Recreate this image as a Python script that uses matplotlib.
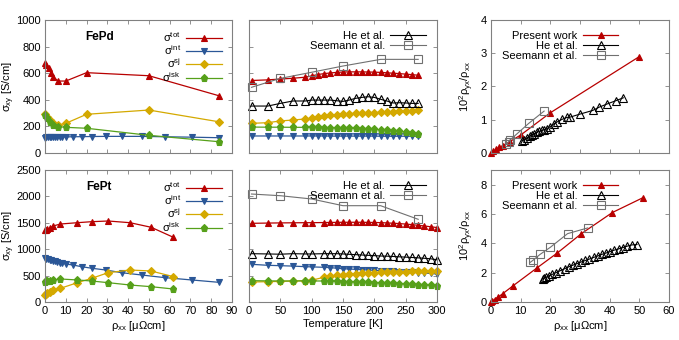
import matplotlib
matplotlib.use("Agg")
import matplotlib.pyplot as plt

plt.rcParams['font.family'] = ['Liberation Sans', 'DejaVu Sans']
plt.rcParams['mathtext.fontset'] = 'custom'
plt.rcParams['mathtext.rm'] = 'Liberation Sans'
plt.rcParams['font.size'] = 8

# ---- FePd, sigma vs rho_xx
pd_rho_tot = [0, 0.7, 1.8, 2.8, 3.9, 6.3, 10, 20, 50, 83.6]
pd_tot = [675, 662, 637, 604, 574, 541, 541, 604, 581, 431]
pd_rho_sj = [0, 1.0, 2.3, 3.9, 6.3, 10, 20, 50, 83.6]
pd_sj = [290, 273, 248, 223, 210, 223, 291, 323, 235]
pd_isk = [283, 261, 236, 211, 198, 193, 186, 133, 85]
pd_rho_int = [0, 0.7, 1.4, 2.3, 3.1, 3.9, 4.7, 5.8, 7.1, 8.4, 10, 13.5, 17.6,
              22.7, 29.2, 36.9, 46.6, 57.8, 70.7, 83.6]
pd_int = [116, 117, 117, 118, 118, 118, 119, 119, 120, 120, 121, 122, 123,
          124, 125, 125, 125, 122, 119, 115]

# ---- FePt, sigma vs rho_xx
pt_rho = [0, 0.5, 1.2, 2.3, 3.9, 7.4, 15.6, 22.4, 30.4, 40.9, 51.1, 61.8]
pt_tot = [1360, 1370, 1380, 1395, 1439, 1477, 1502, 1521, 1534, 1502, 1415, 1225]
pt_sj = [133, 150, 164, 196, 227, 259, 366, 448, 555, 606, 587, 480]
pt_isk = [385, 390, 397, 404, 417, 436, 417, 398, 366, 322, 290, 246]
pt_rho_int = [0, 0.7, 1.4, 2.3, 3.1, 3.9, 4.7, 5.8, 7.1, 8.4, 10, 13.5, 17.6,
              22.7, 29.2, 36.9, 46.6, 57.8, 70.7, 83.6]
pt_int = [827, 815, 808, 795, 788, 782, 772, 763, 748, 733, 720, 700, 669,
          638, 606, 555, 511, 461, 417, 373]

# ---- FePd, sigma vs temperature
pd_T = [4, 30, 50, 70, 90, 100, 110, 120, 130, 140, 150, 160, 170, 180, 190,
        200, 210, 220, 230, 240, 250, 260, 270]
pd_T_tot = [545, 550, 556, 562, 570, 580, 590, 597, 602, 606, 609, 610, 610,
            610, 609, 608, 606, 603, 600, 597, 593, 589, 585]
pd_T_int = [128, 128, 128, 128, 128, 128, 128, 128, 127, 127, 127, 127, 127,
            127, 127, 127, 126, 126, 126, 126, 126, 126, 126]
pd_T_sj = [223, 228, 241, 248, 256, 261, 268, 276, 283, 288, 293, 296, 298,
           301, 303, 304, 306, 308, 311, 313, 316, 318, 321]
pd_T_isk = [195, 194, 194, 193, 193, 193, 192, 191, 190, 189, 188, 187, 185,
            183, 181, 178, 175, 172, 168, 163, 157, 150, 143]
he_pd_T = [353, 353, 373, 391, 391, 398, 398, 398, 398, 393, 388, 398, 411,
           418, 423, 418, 404, 391, 376, 378, 376, 373, 373]
se_pd_T_x = [4, 50, 100, 150, 210, 270]
se_pd_T = [494, 561, 607, 654, 704, 704]

# ---- FePt, sigma vs temperature
pt_T = [4, 30, 50, 70, 90, 100, 120, 130, 140, 150, 160, 170, 180, 190, 200,
        210, 220, 230, 240, 250, 260, 270, 280, 290, 300]
pt_T_tot = [1490, 1495, 1498, 1500, 1502, 1502, 1505, 1507, 1508, 1510, 1510,
            1510, 1510, 1508, 1506, 1503, 1498, 1492, 1485, 1476, 1465, 1452,
            1440, 1425, 1410]
pt_T_int = [714, 695, 688, 680, 669, 665, 657, 650, 640, 630, 625, 618, 612,
            606, 600, 592, 586, 580, 575, 568, 562, 556, 549, 540, 530]
pt_T_sj = [378, 385, 390, 398, 404, 412, 470, 485, 505, 515, 524, 535, 545,
           552, 556, 562, 566, 570, 573, 576, 580, 582, 584, 586, 587]
pt_T_isk = [404, 400, 398, 398, 400, 398, 398, 395, 392, 388, 385, 380, 376,
            372, 368, 363, 358, 352, 346, 340, 334, 327, 320, 314, 309]
he_pt_T = [915, 910, 905, 915, 910, 910, 915, 915, 915, 910, 903, 897, 890,
           884, 878, 871, 868, 862, 856, 850, 843, 836, 828, 818, 800]
se_pt_T_x = [4, 50, 100, 150, 210, 270]
se_pt_T = [2045, 2013, 1951, 1824, 1824, 1566]

# ---- 10^2 rho_yx / rho_xx vs rho_xx
pw_pd_x = [0, 0.7, 1.8, 2.8, 3.9, 6.3, 10, 20, 50]
pw_pd_y = [0, 0.05, 0.11, 0.17, 0.22, 0.34, 0.54, 1.21, 2.9]
he_pd_x = [10.4, 11.2, 12.1, 13.0, 13.8, 14.6, 15.5, 16.3, 17.2, 17.9, 18.8,
           19.9, 21.1, 22.4, 23.9, 25.6, 26.7, 30.0, 34.3, 36.5, 39.0, 42.0, 44.6]
he_pd_y = [0.37, 0.40, 0.45, 0.51, 0.54, 0.58, 0.62, 0.65, 0.68, 0.70, 0.73,
           0.79, 0.87, 0.94, 1.01, 1.07, 1.08, 1.17, 1.28, 1.38, 1.47, 1.57, 1.66]
se_pd_x = [5.2, 5.9, 6.4, 8.8, 12.7, 17.9]
se_pd_y = [0.26, 0.33, 0.39, 0.58, 0.89, 1.26]

pw_pt_x = [0, 0.5, 1.2, 2.3, 3.9, 7.4, 15.6, 22.4, 30.4, 40.9, 51.1]
pw_pt_y = [0, 0.07, 0.17, 0.32, 0.56, 1.1, 2.34, 3.35, 4.65, 6.1, 7.1]
he_pt_x = [17.5, 18.0, 18.6, 19.5, 20.6, 22.0, 23.4, 24.8, 26.2, 27.6, 29.0,
           30.4, 31.8, 33.2, 34.6, 36.0, 37.4, 38.8, 40.2, 41.6, 43.0, 44.4,
           45.8, 47.4, 49.2]
he_pt_y = [1.59, 1.64, 1.69, 1.78, 1.88, 2.01, 2.14, 2.27, 2.40, 2.51, 2.62,
           2.73, 2.83, 2.93, 3.04, 3.14, 3.25, 3.34, 3.44, 3.54, 3.62, 3.71,
           3.80, 3.89, 3.92]
se_pt_x = [13.2, 14.2, 16.5, 20.0, 25.8, 32.6]
se_pt_y = [2.7, 2.85, 3.24, 3.73, 4.66, 5.05]

RED = '#b80000'
BLUE = '#2b5797'
GOLD = '#d4a900'
GREEN = '#56a01a'
GREY = '#707070'

fig = plt.figure(figsize=(6.79, 3.40), dpi=100)
W, H = 679., 340.
def box(x0, y0, w, h):
    return fig.add_axes([x0 / W, y0 / H, w / W, h / H])

ax_pd = box(45, 187, 187, 133)
ax_pt = box(45, 38, 187, 132)
ax_pdT = box(249, 187, 188, 133)
ax_ptT = box(249, 38, 188, 132)
ax_pdR = box(491, 187, 178, 133)
ax_ptR = box(491, 38, 178, 132)

ms = 4.5
def pl(ax, x, y, c, m, size=ms, fill=True, lw=0.9):
    return ax.plot(x, y, color=c, marker=m, ms=size, lw=lw, clip_on=False,
                   mfc=c if fill else 'none', mec=c, mew=0.8)[0]

for ax in fig.axes:
    ax.tick_params(direction='in', top=True, right=True, length=3,
                   width=0.6, color='#808080', pad=3)
    for s in ax.spines.values():
        s.set_color('#808080')
        s.set_linewidth(0.8)

lab = ['σ$^{\\rm tot}$', 'σ$^{\\rm int}$', 'σ$^{\\rm sj}$', 'σ$^{\\rm isk}$']

# left column
h1 = pl(ax_pd, pd_rho_tot, pd_tot, RED, '^')
h2 = pl(ax_pd, pd_rho_int, pd_int, BLUE, 'v')
h3 = pl(ax_pd, pd_rho_sj, pd_sj, GOLD, 'D', size=4.2)
h4 = pl(ax_pd, pd_rho_sj, pd_isk, GREEN, 'p', size=5.2)
ax_pd.set_ylim(0, 1000)
ax_pd.set_yticks(range(0, 1001, 200))

pl(ax_pt, pt_rho, pt_tot, RED, '^')
pl(ax_pt, pt_rho_int, pt_int, BLUE, 'v')
pl(ax_pt, pt_rho, pt_sj, GOLD, 'D', size=4.2)
pl(ax_pt, pt_rho, pt_isk, GREEN, 'p', size=5.2)
ax_pt.set_ylim(0, 2500)
ax_pt.set_yticks(range(0, 2501, 500))

for ax, name in [(ax_pd, 'FePd'), (ax_pt, 'FePt')]:
    ax.set_xlim(0, 90)
    ax.set_xticks(range(0, 91, 10))
    ax.set_ylabel('σ$_{\\rm xy}$ [S/cm]')
    ax.yaxis.set_label_coords(-0.152, 0.5)
    ax.text(0.29, 0.87, name, transform=ax.transAxes, ha='center',
            va='center', fontweight='bold', fontsize=8.5)
    ax.legend([h1, h2, h3, h4], lab, loc='upper right', frameon=False,
              markerfirst=False, handlelength=3.2, labelspacing=-0.05,
              handletextpad=0.5, borderaxespad=0.5, fontsize=8)
ax_pd.tick_params(labelbottom=False)
ax_pt.set_xlabel('ρ$_{\\rm xx}$ [μΩcm]', labelpad=2)

# middle column
pl(ax_pdT, pd_T, pd_T_tot, RED, '^')
pl(ax_pdT, pd_T, pd_T_int, BLUE, 'v')
pl(ax_pdT, pd_T, pd_T_sj, GOLD, 'D', size=4.2)
pl(ax_pdT, pd_T, pd_T_isk, GREEN, 'p', size=5.2)
hh = pl(ax_pdT, pd_T, he_pd_T, 'k', '^', size=5.5, fill=False, lw=0.8)
hs = pl(ax_pdT, se_pd_T_x, se_pd_T, GREY, 's', size=6, fill=False, lw=0.8)
ax_pdT.set_ylim(0, 1000)
ax_pdT.set_yticks(range(0, 1001, 200))

pl(ax_ptT, pt_T, pt_T_tot, RED, '^')
pl(ax_ptT, pt_T, pt_T_int, BLUE, 'v')
pl(ax_ptT, pt_T, pt_T_sj, GOLD, 'D', size=4.2)
pl(ax_ptT, pt_T, pt_T_isk, GREEN, 'p', size=5.2)
pl(ax_ptT, pt_T, he_pt_T, 'k', '^', size=5.5, fill=False, lw=0.8)
pl(ax_ptT, se_pt_T_x, se_pt_T, GREY, 's', size=6, fill=False, lw=0.8)
ax_ptT.set_ylim(0, 2500)
ax_ptT.set_yticks(range(0, 2501, 500))

for ax in (ax_pdT, ax_ptT):
    ax.set_xlim(0, 300)
    ax.set_xticks(range(0, 301, 50))
    ax.tick_params(labelleft=False)
    ax.legend([hh, hs], ['He et al.', 'Seemann et al.'], loc='upper right',
              frameon=False, markerfirst=False, handlelength=3.2,
              labelspacing=0.0, handletextpad=0.5, borderaxespad=0.6,
              fontsize=8)
ax_pdT.tick_params(labelbottom=False)
ax_ptT.set_xlabel('Temperature [K]', labelpad=2)

# right column
hp = pl(ax_pdR, pw_pd_x, pw_pd_y, RED, '^')
pl(ax_pdR, he_pd_x, he_pd_y, 'k', '^', size=5.5, fill=False, lw=0.8)
pl(ax_pdR, se_pd_x, se_pd_y, GREY, 's', size=6, fill=False, lw=0.8)
ax_pdR.set_ylim(0, 4)
ax_pdR.set_yticks(range(0, 5))

pl(ax_ptR, pw_pt_x, pw_pt_y, RED, '^')
pl(ax_ptR, he_pt_x, he_pt_y, 'k', '^', size=5.5, fill=False, lw=0.8)
pl(ax_ptR, se_pt_x, se_pt_y, GREY, 's', size=6, fill=False, lw=0.8)
ax_ptR.set_ylim(0, 9)
ax_ptR.set_yticks(range(0, 9, 2))

for ax in (ax_pdR, ax_ptR):
    ax.set_xlim(0, 60)
    ax.set_xticks(range(0, 61, 10))
    ax.set_ylabel('10$^2$ρ$_{\\rm yx}$/ρ$_{\\rm xx}$')
    ax.yaxis.set_label_coords(-0.085, 0.5)
    ax.legend([hp, hh, hs], ['Present work', 'He et al.', 'Seemann et al.'],
              loc='upper left', bbox_to_anchor=(0.0, 1.0), frameon=False,
              markerfirst=False, handlelength=3.2, labelspacing=0.0,
              handletextpad=0.5, borderaxespad=0.6, fontsize=8)
ax_pdR.tick_params(labelbottom=False)
ax_ptR.set_xlabel('ρ$_{\\rm xx}$ [μΩcm]', labelpad=2)

fig.savefig('out.png', dpi=100)
